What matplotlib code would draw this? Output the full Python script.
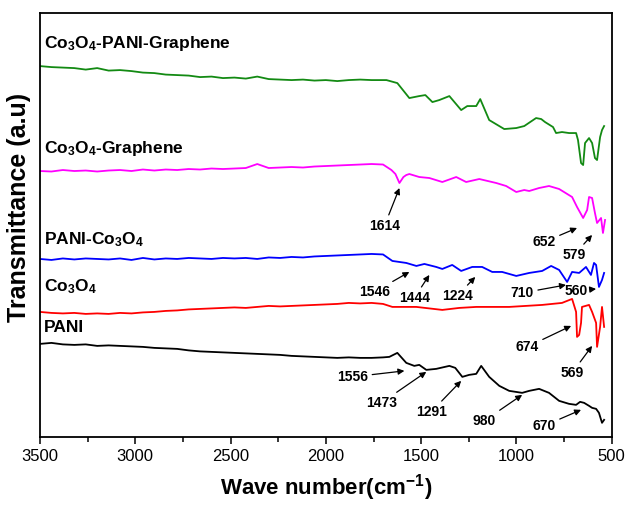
import matplotlib
matplotlib.use("Agg")
import matplotlib.pyplot as plt

plt.rcParams["font.family"] = ["Liberation Sans", "DejaVu Sans"]
plt.rcParams["mathtext.fontset"] = "custom"
plt.rcParams["mathtext.rm"] = "Liberation Sans:bold"
plt.rcParams["mathtext.it"] = "Liberation Sans:bold"
plt.rcParams["mathtext.bf"] = "Liberation Sans:bold"
plt.rcParams["mathtext.default"] = "rm"

# ---- spectra (wave number, transmittance a.u. with offsets) ----
# flat high-wavenumber part shared x grid
wn_hi = [3500, 3440, 3380, 3320, 3260, 3200, 3140, 3080, 3020, 2960, 2900, 2840, 2780, 2720,
         2660, 2600, 2540, 2480, 2420, 2360, 2300, 2240, 2180, 2120, 2060, 2000, 1940, 1880,
         1820, 1760, 1700]

wn_pani = wn_hi + [1667, 1625, 1578, 1536, 1510, 1473, 1421, 1352, 1321, 1284, 1248, 1211,
                   1185, 1143, 1090, 1038, 970, 933, 881, 829, 776, 724, 687, 666, 645, 619,
                   603, 582, 567, 551, 540]
t_pani = [93, 94, 92.5, 92, 92.5, 91, 91.5, 91, 90.5, 90, 89, 88.5, 88, 86.5,
          85.5, 85, 84.5, 84, 83.5, 83, 82.5, 82, 81, 80.5, 80, 79.5, 79, 79.5,
          79, 79, 79.5,
          80, 84, 74, 71, 72, 67, 68, 71, 69, 60, 62, 63,
          71, 60, 51, 46, 44, 46, 48, 44, 36, 33, 32, 35, 34, 31,
          29, 28, 24, 14, 17]

wn_co = wn_hi + [1651, 1525, 1389, 1300, 1211, 1038, 865, 761, 708, 687, 682, 671, 661, 656,
                 619, 603, 582, 577, 561, 551, 540]
t_co = [125, 124, 123.5, 124, 123, 123.5, 123, 124, 123.5, 124.5, 125, 126, 126.5, 127.5,
        128, 128.5, 129, 129.5, 129, 130, 131, 130.5, 131, 131.5, 132, 132.5, 133, 134,
        133.5, 134, 133,
        130, 130, 127, 129, 130, 130, 132, 134, 138, 125, 100, 102, 114, 130,
        132, 125, 114, 90, 110, 130, 110]

wn_pani_co = wn_hi + [1651, 1578, 1525, 1483, 1421, 1389, 1337, 1290, 1232, 1180, 1127,
                      1075, 1001, 933, 865, 818, 776, 734, 708, 671, 635, 609, 593, 582,
                      567, 551, 540]
t_pani_co = [178, 177, 178.5, 177.5, 178.5, 178, 177.5, 178.5, 177, 179, 177.5, 178.5, 178, 179,
             178.5, 178, 179, 178.5, 179, 178, 179.5, 179, 180, 179.5, 180.5, 181, 181.5, 182,
             182.5, 183, 182.5,
             176, 174, 171, 173, 170, 168, 172, 166, 170, 170, 165,
             165, 161, 164, 166, 171, 167, 155, 165, 164, 170, 162, 174, 172,
             150, 157, 164]

wn_co_g = wn_hi + [1656, 1635, 1614, 1593, 1578, 1562, 1510, 1457, 1389, 1316, 1264, 1195,
                   1106, 1054, 1001, 959, 933, 881, 829, 776, 708, 682, 650, 629, 619, 603,
                   588, 577, 556, 546, 535]
t_co_g = [266, 265.5, 267, 266, 266.5, 265.5, 266.5, 267, 266, 267.5, 266.5, 267.5, 267, 268,
          267.5, 268.5, 268, 268.5, 269, 273, 269, 269.5, 270, 269.5, 270.5, 271, 271.5, 272,
          272.5, 273, 272.5,
          267, 263, 254, 260, 262, 263, 260, 259, 255, 260, 255, 258,
          254, 251, 245, 247, 246, 249, 251, 248, 240, 230, 219, 227, 240, 239,
          224, 214, 219, 204, 217]

wn_co_pani_g = wn_hi + [1682, 1625, 1562, 1510, 1478, 1441, 1405, 1352, 1290, 1258, 1211,
                        1190, 1143, 1064, 1001, 959, 897, 870, 850, 808, 792, 761, 724, 687,
                        677, 661, 650, 640, 619, 603, 588, 577, 561, 551, 540]
t_co_pani_g = [371, 370, 369.5, 369, 367.5, 369, 366.5, 367, 366, 364.5, 364, 362.5, 362, 361.5,
               360, 360.5, 359, 359.5, 358.5, 360.5, 358, 357.5, 357, 357.5, 356.5, 357, 356, 357,
               357.5, 357, 357,
               357, 354, 339, 341, 342, 335, 337, 341, 327, 331, 331,
               338, 317, 308, 309, 311, 319, 318, 315, 310, 304, 305, 304, 304,
               297, 274, 272, 294, 299, 294, 279, 277, 300, 307, 311]

series = [
    (wn_pani, t_pani, "black"),
    (wn_co, t_co, "#ff0000"),
    (wn_pani_co, t_pani_co, "#0000ff"),
    (wn_co_g, t_co_g, "#ff00ff"),
    (wn_co_pani_g, t_co_pani_g, "#138a13"),
]

# curve names and their label heights
names = ["PANI", r"Co$_3$O$_4$", r"PANI-Co$_3$O$_4$", r"Co$_3$O$_4$-Graphene",
         r"Co$_3$O$_4$-PANI-Graphene"]
name_y = [109, 150, 197, 289, 394]

# peak annotations: label, peak (wn, t), label (wn, t)
peak_lbl = ["1614", "652", "579", "1546", "1444", "1224", "710", "560", "674", "569",
            "1556", "1473", "1291", "980", "670"]
peak_wn = [1614, 682, 603, 1562, 1457, 1216, 740, 582, 713, 603, 1588, 1473, 1290, 970, 661]
peak_t = [249, 209, 202, 165, 162, 160, 152, 148, 111, 91, 66, 65, 56, 42, 27]
text_wn = [1693, 855, 698, 1745, 1536, 1311, 970, 687, 944, 708, 1860, 1709, 1447, 1169, 855]
text_t = [211, 195, 182, 145, 139, 141, 144, 146, 90, 64, 60, 34, 25, 16, 11]

fig = plt.figure(figsize=(6.3, 5.05), dpi=100)
ax = fig.add_axes([0.0635, 0.135, 0.9075, 0.839])

for x, y, c in series:
    ax.plot(x, y, color=c, lw=1.3)

for n, y in zip(names, name_y):
    ax.text(3479, y, n, fontsize=12.5, fontweight="bold", ha="left", va="center")

for lbl, pw, pt, tw, tt in zip(peak_lbl, peak_wn, peak_t, text_wn, text_t):
    ax.annotate(lbl, xy=(pw, pt), xytext=(tw, tt), fontsize=10, fontweight="bold",
                ha="center", va="center",
                arrowprops=dict(arrowstyle="-|>", color="black", lw=0.9,
                                mutation_scale=9, shrinkA=1, shrinkB=0))

ax.set_xlim(3500, 500)
ax.set_ylim(0, 424)
ax.set_xticks([3500, 3000, 2500, 2000, 1500, 1000, 500])
ax.set_xticks([3250, 2750, 2250, 1750, 1250, 750], minor=True)
ax.set_yticks([])
ax.tick_params(axis="x", which="major", direction="out", length=5, width=1.1, labelsize=12)
ax.tick_params(axis="x", which="minor", direction="out", length=3.5, width=1.1)
for s in ax.spines.values():
    s.set_linewidth(1.3)

ax.set_xlabel(r"Wave number(cm$^{-1}$)", fontsize=16, fontweight="bold", labelpad=6)
ax.set_ylabel("Transmittance (a.u)", fontsize=18, fontweight="bold")
ax.yaxis.set_label_coords(-0.016, 0.542)

fig.savefig("out.png", dpi=100)
